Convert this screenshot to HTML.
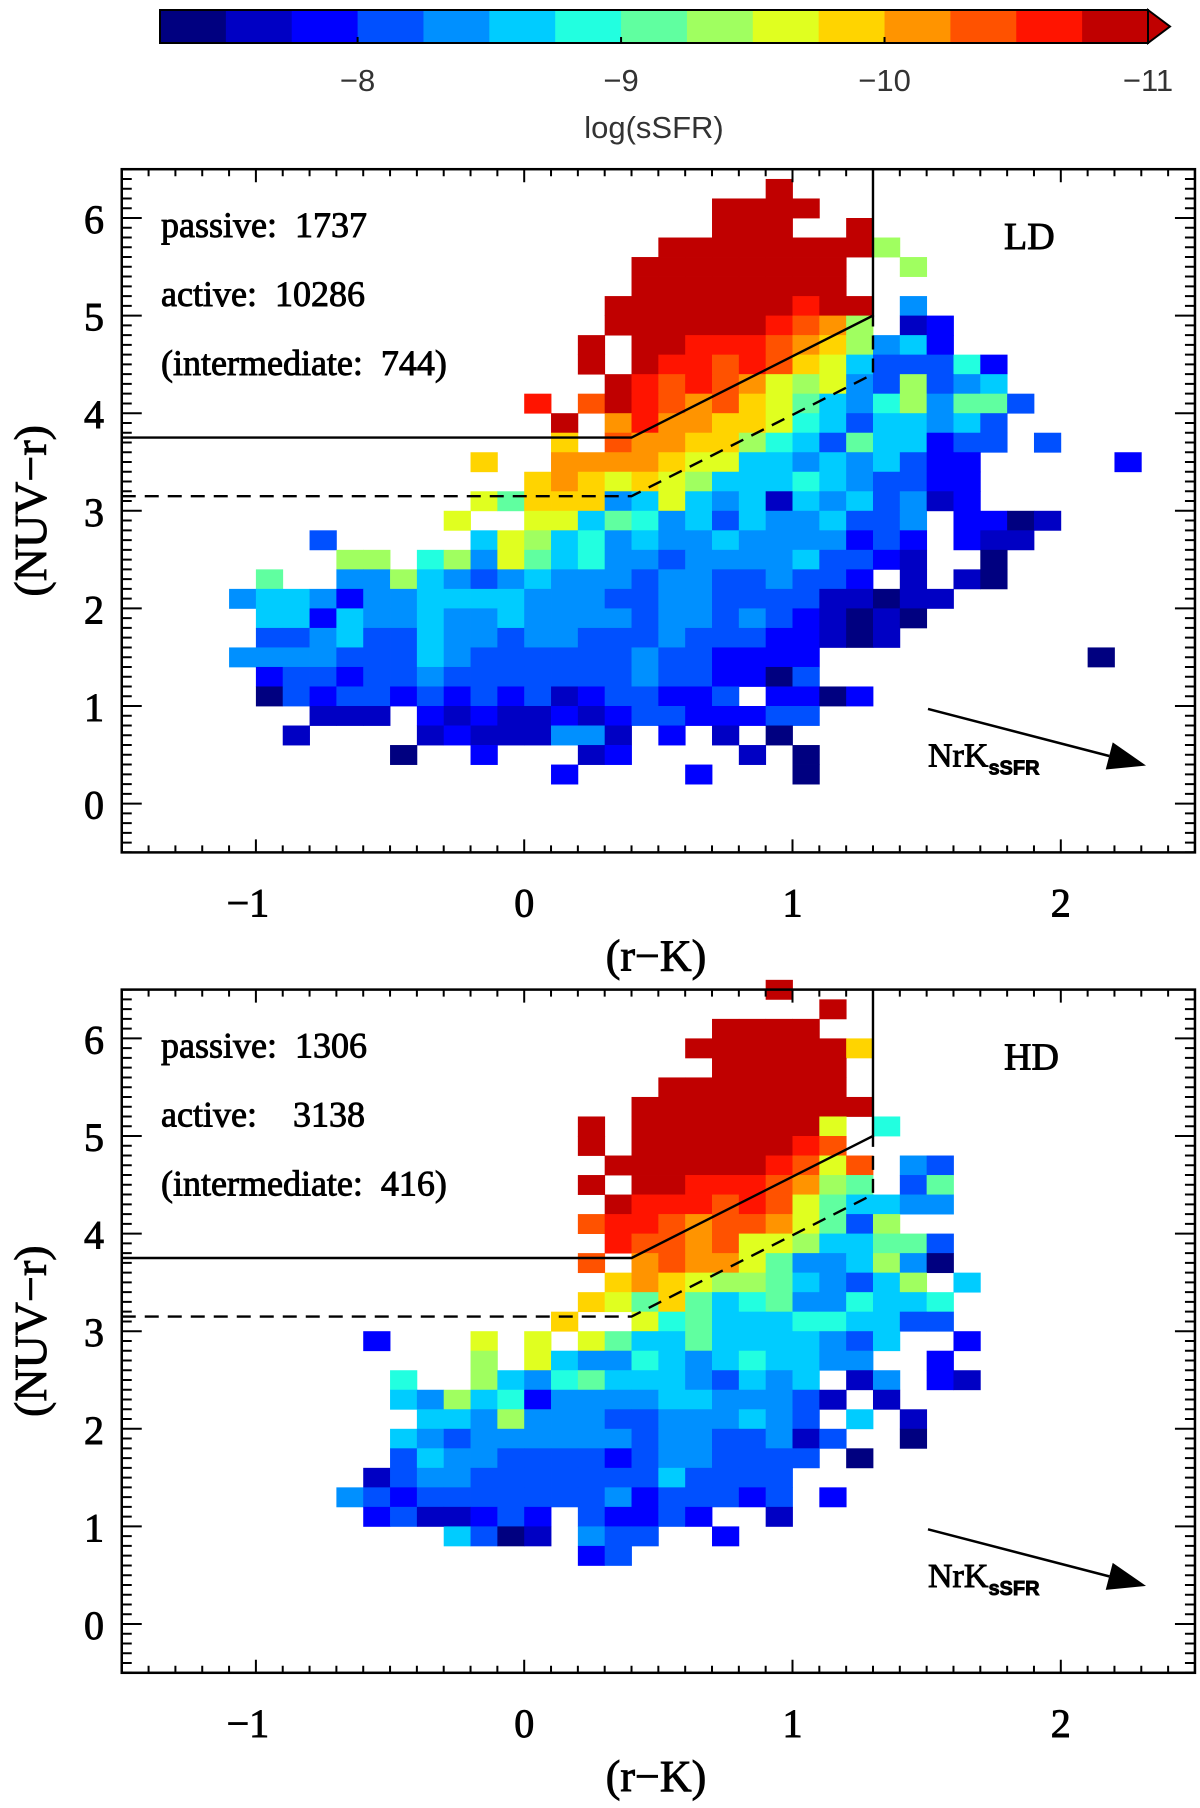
<!DOCTYPE html>
<html><head><meta charset="utf-8"><style>
html,body{margin:0;padding:0;background:#fff;}
svg{display:block;font-family:"Liberation Serif",serif;}
.hv{stroke:#000;stroke-width:0.9px;}
</style></head><body>
<svg id="fig" width="1200" height="1808" viewBox="0 0 1200 1808" xmlns="http://www.w3.org/2000/svg">
<g id="cbar"></g>
<g id="p1"></g>
<g id="p2"></g>
</svg>
<script>
// colour levels of log(sSFR), from -7.25 (left) to -11 (right)
const cbarTicks = [-8, -9, -10, -11];
const palette = ["#000080","#0000c4","#0000ff","#0050ff","#0090ff","#00ccff","#22ffe0","#60ffa0","#a0ff60","#e0ff20","#ffd400","#ff9400","#ff5200","#ff1400","#c00000"];
const xTicks = [-1, 0, 1, 2];
const yTicks = [0, 1, 2, 3, 4, 5, 6];
// heatmap rows, top to bottom; column c covers x in [-1.5+0.1c, -1.4+0.1c]
// char = colour index (0-9,a-e), '.' = empty; row k covers y in [0.2k, 0.2k+0.2]
const ldRows = [
"........................e...............",
"......................eeee..............",
"......................eee..e............",
"....................eeeeeeee8...........",
"...................eeeeeeee..8..........",
"...................eeeeeeee.............",
"..................eeeeeeedee.4..........",
"..................eeeeeedcb8.12.........",
".................e.eedddcba8452.........",
".................e.eddcdca9533362.......",
"..................edcdcb989438345.......",
"...............d.cedcbca9754684773......",
"................e.bdbbaa965355453.......",
"................a.cbbaa8653755233.3.....",
".............a..bbbba99554545322.....2..",
"...............aba9a985556543322........",
".............97aaa45954515453412........",
"............9..995764535445334.2201.....",
".......3.....59856454454444232.211......",
"........88.6849756443444453321..0.......",
".....7..44854345444344334332.1.10.......",
"....455424455554443344333311011.........",
".....5525445445444434434321010..........",
".....334533544344333433322101...........",
"....4444333543333334332222..........0...",
".....233233433333334332203..............",
".....032332323231233223.2202............",
".......111.212112123322233..............",
"......1....12111441.2.1.0...............",
"..........0..2...12....1.0..............",
"................2....2...0.............."];
const ldTopRow = 31;
const hdRows = [
"........................e...............",
"..........................e.............",
"......................eeee..............",
".....................eeeeeea............",
"......................eeeee.............",
"....................eeeeeee.............",
"...................eeeeeeeee............",
".................e.eeeeeee9.6...........",
".................e.eeeeeedc.............",
"..................eeeeeedc9c.43.........",
".................e.eedddcb87.37.........",
"..................edddcdc975544.........",
".................cddcbccb9738...........",
"..................dccbc99855773.........",
".................c.bcbb97445840.........",
"..................aba988754358.5........",
".................a97a7567446556.........",
"................a..967555665533.........",
".........2...9.9.975575555435..2........",
".............8.9544654565544..2.........",
"..........6..8546755543545.14.21........",
"..........54856244445544431.1...........",
"...........554844433444543.5.1..........",
"..........54344444434433413..0..........",
"..........3544333323443333.0............",
".........1344333333353333...............",
"........43233333334233323.2.............",
".........2311232.32232..1...............",
"............5301.433..2.................",
".................23....................."];
const hdTopRow = 32;
const ldCounts = ["passive:  1737", "active:  10286", "(intermediate:  744)"];
const hdCounts = ["passive:  1306", "active:    3138", "(intermediate:  416)"];

const NS = "http://www.w3.org/2000/svg";
function mk(tag, attrs, parent){ const e=document.createElementNS(NS,tag); for(const k in attrs) e.setAttribute(k,attrs[k]); parent.appendChild(e); return e; }

// colorbar
(function(){
  const g=document.getElementById('cbar');
  const L=160, R=1148, T=10, B=43;
  const cx = v => L + (-7.25 - v) / 3.75 * (R - L);
  palette.forEach((c,i)=>{
    const r=mk('rect',{x:cx(-7.25-0.25*i),y:T,width:cx(-7.5-0.25*i)-cx(-7.25-0.25*i)+0.5,height:B-T,fill:c},g);
    
    
  });
  const tri=mk('polygon',{points:`${R},${T} ${R+22},${(T+B)/2} ${R},${B}`,fill:palette[14],stroke:'#000','stroke-width':2},g);
  
  
  const fr=mk('rect',{x:L,y:T,width:R-L,height:B-T,fill:'none',stroke:'#000','stroke-width':2},g);
  
  
  cbarTicks.forEach(v=>{
    mk('line',{x1:cx(v),x2:cx(v),y1:B,y2:B-6,stroke:'#000','stroke-width':2},g);
    const t=mk('text',{x:cx(v),y:91,'text-anchor':'middle','font-size':31,fill:'#333','font-family':'"Liberation Sans",sans-serif'},g);
    t.textContent='\u2212'+Math.abs(v);
    
    
  });
  const lab=mk('text',{x:654,y:138,'text-anchor':'middle','font-size':31,fill:'#333','font-family':'"Liberation Sans",sans-serif'},g);
  lab.textContent='log(sSFR)';
  
  
})();

function panel(gid, rows, topRow, y0px, counts, tag){
  const g=document.getElementById(gid);
  const X0=524.2, XU=268.3, YU=97.6;
  const xs=v=>X0+v*XU, ys=v=>y0px-v*YU;
  const L=xs(-1.5), R=xs(2.5), T=ys(6.5), B=ys(-0.5);
  rows.forEach((row,ri)=>{
    const k=topRow-ri;
    for(let c=0;c<row.length;c++){
      const ch=row[c]; if(ch==='.') continue;
      const idx=parseInt(ch,16);
      const x=-1.5+0.1*c, y=0.2*k;
      const r=mk('rect',{x:xs(x),y:ys(y+0.2),width:xs(x+0.1)-xs(x)+0.4,height:ys(y)-ys(y+0.2)+0.4,fill:palette[idx]},g);
      
      
    }
  });
  const sl=mk('polyline',{points:`${L},${ys(3.75)} ${xs(0.4)},${ys(3.75)} ${xs(1.3)},${ys(5.0)} ${xs(1.3)},${T}`,fill:'none',stroke:'#000','stroke-width':2.4},g);
  
  
  const dl=mk('polyline',{points:`${L},${ys(3.15)} ${xs(0.4)},${ys(3.15)} ${xs(1.3)},${ys(4.4)} ${xs(1.3)},${ys(5.0)}`,fill:'none',stroke:'#000','stroke-width':2.4,'stroke-dasharray':'14,9'},g);
  
  
  const fr=mk('rect',{x:L,y:T,width:R-L,height:B-T,fill:'none',stroke:'#000','stroke-width':2.5},g);
  
  
  let d='';
  for(let i=-15;i<=25;i++){ const v=i/10, x=xs(v); const len=(i%10===0)?13:7; d+=`M${x},${B}v${-len}M${x},${T}v${len}`; }
  for(let i=-5;i<=65;i++){ const v=i/10, y=ys(v); const len=(i%10===0)?20:10; d+=`M${L},${y}h${len}M${R},${y}h${-len}`; }
  const tk=mk('path',{d:d,stroke:'#000','stroke-width':2,fill:'none'},g);
  
  
  xTicks.forEach(v=>{
    const t=mk('text',{x:xs(v)+(v<0?-8:0),y:B+64,'text-anchor':'middle','font-size':40,class:'hv'},g);
    t.textContent=(v<0?'\u2212':'')+Math.abs(v);
    
    
  });
  yTicks.forEach(v=>{
    const t=mk('text',{x:104,y:ys(v)+15,'text-anchor':'end','font-size':40,class:'hv'},g);
    t.textContent=String(v);
    
    
  });
  const xl=mk('text',{x:656,y:B+118,'text-anchor':'middle','font-size':44,class:'hv'},g);
  xl.textContent='(r\u2212K)';
  
  
  const yc=(T+B)/2;
  const yl=mk('text',{x:0,y:0,'text-anchor':'middle','font-size':46,class:'hv',transform:`translate(46,${yc}) rotate(-90)`},g);
  yl.textContent='(NUV\u2212r)';
  
  
  counts.forEach((s,i)=>{
    const t=mk('text',{x:161,y:T+68+i*69,'font-size':36,class:'hv'},g);
    t.setAttribute('style','white-space:pre');
    t.textContent=s;
    
    
  });
  const tg=mk('text',{x:1004,y:T+80,'font-size':38,class:'hv'},g);
  tg.textContent=tag;
  
  
  const ax1=928, ay1=ys(0.97), ax2=1146, ay2=ys(0.39);
  const ang=Math.atan2(ay2-ay1,ax2-ax1), hl=38, hw=14;
  const bx=ax2-hl*Math.cos(ang), by=ay2-hl*Math.sin(ang);
  const al=mk('line',{x1:ax1,y1:ay1,x2:bx,y2:by,stroke:'#000','stroke-width':2.5},g);
  
  
  mk('polygon',{points:`${ax2},${ay2} ${bx+hw*Math.sin(ang)},${by-hw*Math.cos(ang)} ${bx-hw*Math.sin(ang)},${by+hw*Math.cos(ang)}`,fill:'#000'},g);
  const at=mk('text',{x:928,y:ys(0.38),'font-size':34,class:'hv'},g);
  
  
  at.textContent='NrK';
  const sub=mk('tspan',{'font-size':20,'font-weight':'bold','font-family':'"Liberation Sans",sans-serif',dy:8},at);
  sub.textContent='sSFR';
}
panel('p1', ldRows, ldTopRow, 803.6, ldCounts, 'LD');
panel('p2', hdRows, hdTopRow, 1624, hdCounts, 'HD');
</script>
</body></html>
